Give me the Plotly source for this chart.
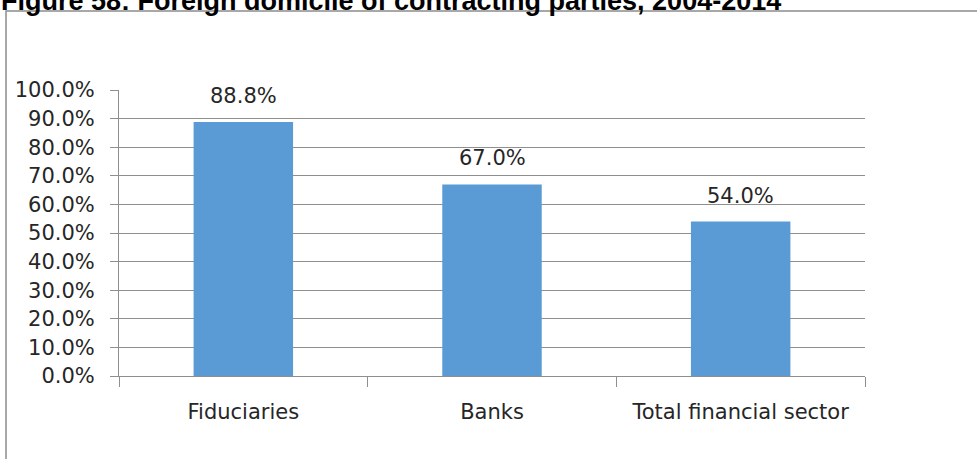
import plotly.graph_objects as go

categories = ["Fiduciaries", "Banks", "Total financial sector"]
values = [0.888, 0.670, 0.540]
value_labels = ["88.8%", "67.0%", "54.0%"]
title_text = "Figure 58: Foreign domicile of contracting parties, 2004-2014"

W, H = 977, 459
ML, MR, MT, MB = 119, 112, 90, 83
PW = W - ML - MR
PH = H - MT - MB

def px_x(p):
    return (p - ML) / PW

def px_y(p):
    return (H - MB - p) / PH

font_main = "'DejaVu Sans', sans-serif"

fig = go.Figure()
fig.add_trace(go.Bar(
    x=categories, y=values,
    marker=dict(color="#5B9BD5", line=dict(width=0)),
    width=0.4,
    hoverinfo="skip",
))

for c, v, t in zip(categories, values, value_labels):
    fig.add_annotation(
        x=c, y=v, xref="x", yref="y", text=t, showarrow=False,
        yanchor="bottom", yshift=12,
        font=dict(family=font_main, size=21, color="#262626"),
    )

fig.add_annotation(
    x=px_x(-1), y=px_y(18), xref="paper", yref="paper",
    xanchor="left", yanchor="bottom", text="<b>" + title_text + "</b>",
    showarrow=False, font=dict(family="Liberation Sans, Arial", size=27, color="#000000"),
)

fig.add_shape(
    type="rect", xref="paper", yref="paper",
    x0=px_x(6), x1=px_x(1000), y0=px_y(11), y1=px_y(480),
    line=dict(color="#8c8c8c", width=1.5), fillcolor="rgba(0,0,0,0)", layer="below",
)

fig.update_layout(
    width=W, height=H,
    margin=dict(l=ML, r=MR, t=MT, b=MB, pad=0, autoexpand=False),
    paper_bgcolor="white", plot_bgcolor="white",
    showlegend=False,
    font=dict(family=font_main, size=21, color="#262626"),
)

fig.update_yaxes(
    range=[0, 1], dtick=0.1, tick0=0, tickformat=".1%",
    showgrid=True, gridcolor="#8f8f8f", gridwidth=1,
    showline=True, linecolor="#8f8f8f", linewidth=1,
    ticks="outside", ticklen=8, tickcolor="#8f8f8f",
    zeroline=False, ticklabelstandoff=11,
    tickfont=dict(family=font_main, size=21, color="#262626"),
    fixedrange=True,
)
fig.update_xaxes(
    showline=True, linecolor="#8f8f8f", linewidth=1, mirror=False,
    ticks="outside", ticklen=10, tickcolor="#8f8f8f", tickson="boundaries",
    showgrid=False, ticklabelstandoff=17,
    tickfont=dict(family=font_main, size=21, color="#262626"),
    fixedrange=True,
)

fig.write_html(
    "out.html",
    config={"displayModeBar": False},
    post_script="document.body.style.margin='0';document.body.style.overflow='hidden';",
)
